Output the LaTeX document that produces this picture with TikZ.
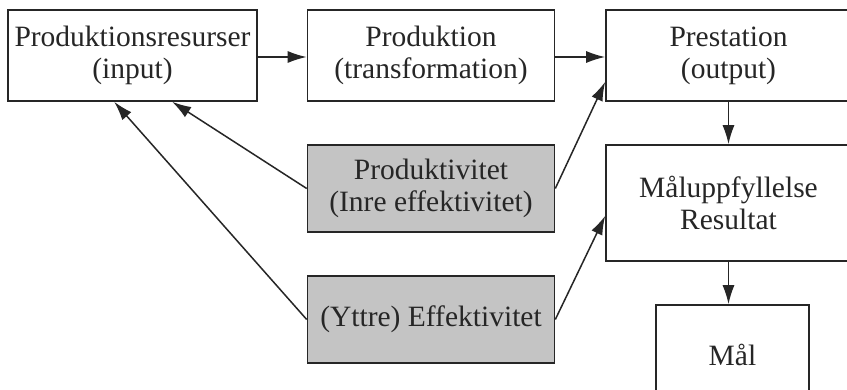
\documentclass[tikz,border=0pt]{standalone}
\usepackage{fontspec}
\setmainfont{Liberation Serif}
\usetikzlibrary{arrows.meta}
\definecolor{ink}{HTML}{262626}
\definecolor{shade}{HTML}{C4C4C4}
\begin{document}
\begin{tikzpicture}[x=1pt,y=-1pt,
  box/.style={draw=ink, line width=1.6pt, text=ink, align=center,
    font=\fontsize{29.5}{32}\selectfont, inner sep=0pt,
    minimum width=#1, minimum height=91pt},
  box/.default=247pt,
  grey/.style={box, fill=shade},
  link/.style={draw=ink, line width=1.5pt,
    -{Latex[length=19pt,width=12pt]}}]
\useasboundingbox (0,0) rectangle (847,389);
\clip (0,0) rectangle (847,389);
\fill[white] (0,0) rectangle (847,389);

% main chain
\node[box=249pt] (res) at (132.5,55.5) {Produktionsresurser\\(input)};
\node[box] (prod) at (431,55.5) {Produktion\\(transformation)};
\node[box=245pt] (prest) at (728.5,55.5) {Prestation\\(output)};
\node[box=245pt, minimum height=116pt] (mal1) at (728.5,203) {Måluppfyllelse\\Resultat};
\node[box=153pt, minimum height=100pt] (mal) at (732.5,355) {Mål};

% measures
\node[grey, minimum height=87pt] (pk) at (431,188.5) {Produktivitet\\(Inre effektivitet)};
\node[grey, minimum height=87pt] (ef) at (431,319.5) {(Yttre) Effektivitet};

% connectors
\draw[link] (res.east |- 0,57) -- (prod.west |- 0,57);
\draw[link] (prod.east |- 0,57) -- (prest.west |- 0,57);
\draw[link] (prest.south) -- (prest.south |- mal1.north);
\draw[link] (mal1.south) -- (mal1.south |- mal.north);
\draw[link] (pk.west) -- ([xshift=165pt]res.south west);
\draw[link] (ef.west) -- ([xshift=107pt]res.south west);
\draw[link] (pk.east) -- ([yshift=20pt]prest.south west);
\draw[link] (ef.east) -- ([yshift=46pt]mal1.south west);
\end{tikzpicture}
\end{document}
